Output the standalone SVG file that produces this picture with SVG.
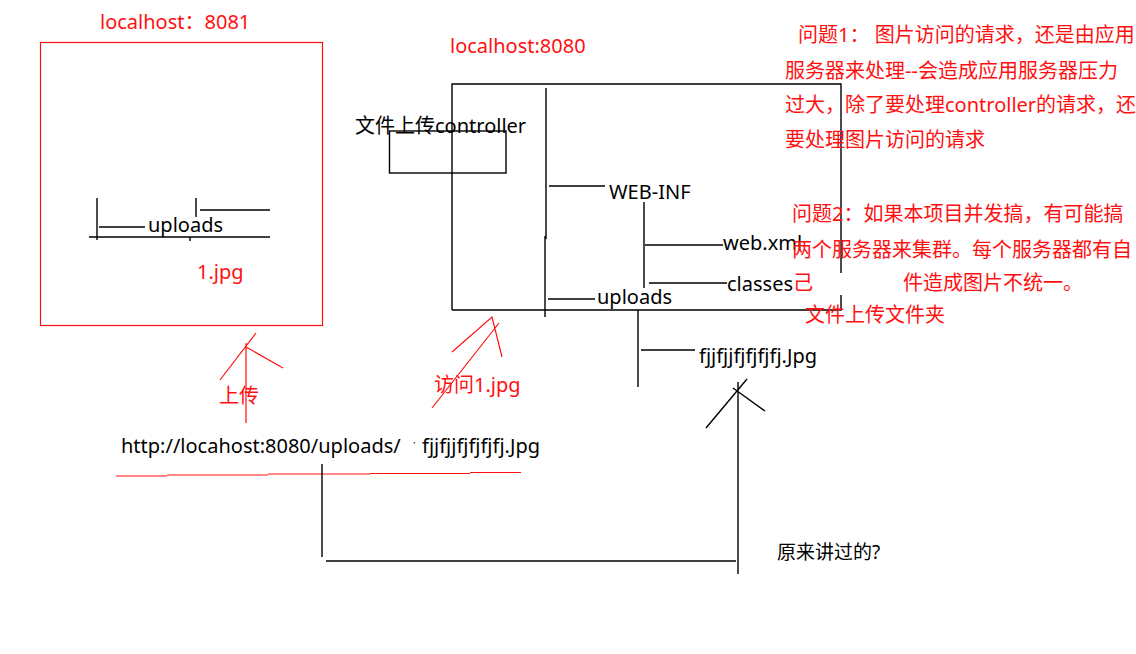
<svg xmlns="http://www.w3.org/2000/svg" width="1136" height="654" viewBox="0 0 1136 654">
<style>
text{font-family:"Noto Sans","Noto Sans CJK SC",sans-serif;font-size:20px}
.k{fill:#000}
.r{fill:#ff1010}
.bl{stroke:#000;stroke-width:1.4;fill:none}
.rl{stroke:#ff1010;stroke-width:1.2;fill:none}
</style>
<rect width="1136" height="654" fill="#fff"/>

<g id="server8081">
<text class="r" x="100" y="29">localhost：8081</text>
<rect x="40.5" y="42.5" width="282" height="283" class="rl"/>
<path class="bl" d="M97,198V240M99,227H145M89,237H270M190,237V241M196,198V217M200,210H270"/>
<text class="k" x="148" y="232">uploads</text>
<text class="r" x="197" y="279">1.jpg</text>
</g>

<g id="server8080">
<text class="r" x="450" y="53">localhost:8080</text>
<path class="bl" d="M452,310V84H841V273M841,295V310H452"/>
<path class="bl" d="M546,88V239M545,236V317M549,186H605M644,202V288M645,245H723M649,283H727M548,299H595"/>
<text class="k" x="609" y="199">WEB-INF</text>
<text class="k" x="723" y="250">web.xml</text>
<text class="k" x="727" y="291">classes</text>
<text class="k" x="597" y="304">uploads</text>
<path class="bl" d="M638,310V387M641,350H695"/>
<text class="k" x="699" y="363">fjjfjjfjfjfjfj.Jpg</text>
</g>

<g id="controller">
<rect x="389.5" y="131" width="116.5" height="42" class="bl"/>
<text class="k" x="355" y="133">文件上传controller</text>
</g>

<g id="url">
<text class="k" x="121" y="453">http://locahost:8080/uploads/</text>
<path class="bl" d="M414,442l0.6,1.5" style="stroke-width:1"/>
<text class="k" x="422" y="453">fjjfjjfjfjfjfj.Jpg</text>
<path class="rl" d="M116,476H167M167,475H268M268,474H370M370,473.5H470M470,472.5H521"/>
</g>

<g id="notes">
<text class="r" x="798" y="42">问题1： 图片访问的请求，还是由应用</text>
<text class="r" x="785" y="78">服务器来处理--会造成应用服务器压力</text>
<text class="r" x="785" y="112">过大，除了要处理controller的请求，还</text>
<text class="r" x="785" y="147">要处理图片访问的请求</text>
<text class="r" x="792" y="221">问题2：如果本项目并发搞，有可能搞</text>
<text class="r" x="792" y="257">两个服务器来集群。每个服务器都有自</text>
<text class="r" x="793" y="290">己</text>
<text class="r" x="903" y="290">件造成图片不统一。</text>
<text class="r" x="805" y="322">文件上传文件夹</text>
</g>

<g id="labels">
<text class="r" x="219" y="403">上传</text>
<text class="r" x="434" y="392">访问1.jpg</text>
<text class="k" x="777" y="559" style="font-size:19px">原来讲过的?</text>
</g>

<g id="connectors">
<path class="rl" d="M246,343V423M220,380L256,333M246,347L283,368"/>
<path class="rl" d="M432,408L499,323M452,352L492,317L502,357"/>
<path class="bl" d="M738,382V574M706,428L747,379M733,388L765,411"/>
<path class="bl" d="M322,464V557M326,561H736"/>
</g>
</svg>
